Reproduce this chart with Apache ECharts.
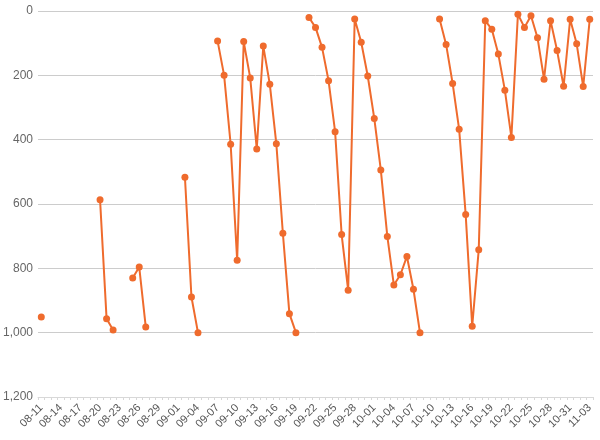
<!DOCTYPE html>
<html>
<head>
<meta charset="utf-8">
<script src="https://cdn.jsdelivr.net/npm/echarts@6/dist/echarts.min.js"></script>
<style>html,body{margin:0;padding:0;background:#fff;}#c{width:600px;height:440px;}</style>
</head>
<body>
<div id="c"></div>
<script>
var categories = [
"08-11","08-12","08-13","08-14","08-15","08-16","08-17","08-18","08-19","08-20",
"08-21","08-22","08-23","08-24","08-25","08-26","08-27","08-28","08-29","08-30","08-31",
"09-01","09-02","09-03","09-04","09-05","09-06","09-07","09-08","09-09","09-10",
"09-11","09-12","09-13","09-14","09-15","09-16","09-17","09-18","09-19","09-20",
"09-21","09-22","09-23","09-24","09-25","09-26","09-27","09-28","09-29","09-30",
"10-01","10-02","10-03","10-04","10-05","10-06","10-07","10-08","10-09","10-10",
"10-11","10-12","10-13","10-14","10-15","10-16","10-17","10-18","10-19","10-20",
"10-21","10-22","10-23","10-24","10-25","10-26","10-27","10-28","10-29","10-30","10-31",
"11-01","11-02","11-03"
];
var values = [
951,null,null,null,null,null,null,null,null,587,
957,992,null,null,830,796,982,null,null,null,null,
null,517,889,1000,null,null,93,200,414,775,
95,208,429,109,228,413,691,941,1000,null,
20,51,113,217,375,695,868,25,97,202,
334,494,701,852,820,763,865,1000,null,null,
25,104,225,368,633,980,742,30,57,134,
246,393,10,51,15,83,212,30,123,234,26,
102,235,26
];
var yTicks = {min: 0, max: 1200, interval: 200};

var chart = echarts.init(document.getElementById('c'), null, {renderer: 'canvas'});
chart.setOption({
  animation: false,
  backgroundColor: '#ffffff',
  textStyle: {fontFamily: 'Liberation Sans, Arial, sans-serif'},
  grid: {left: 37, right: 7, top: 11, bottom: 43, containLabel: false},
  xAxis: {
    type: 'category',
    data: categories,
    boundaryGap: true,
    axisLine: {onZero: false, lineStyle: {color: '#d8d8d8', width: 1}},
    axisTick: {show: true, interval: 0, length: 3, lineStyle: {color: '#d8d8d8'}},
    axisLabel: {interval: 2, rotate: 45, color: '#555', fontSize: 11, margin: 9}
  },
  yAxis: {
    type: 'value',
    inverse: true,
    min: yTicks.min, max: yTicks.max, interval: yTicks.interval,
    axisLine: {show: false},
    axisTick: {show: false},
    axisLabel: {color: '#666', fontSize: 12, margin: 5,
      formatter: function (v) { return v.toLocaleString('en-US'); }},
    splitLine: {lineStyle: {color: '#cccccc', width: 1}}
  },
  series: [{
    type: 'line',
    data: values,
    connectNulls: false,
    symbol: 'circle',
    symbolSize: 7,
    showAllSymbol: true,
    lineStyle: {color: '#ef6b2d', width: 2},
    itemStyle: {color: '#ef6b2d'}
  }]
});
</script>
</body>
</html>
